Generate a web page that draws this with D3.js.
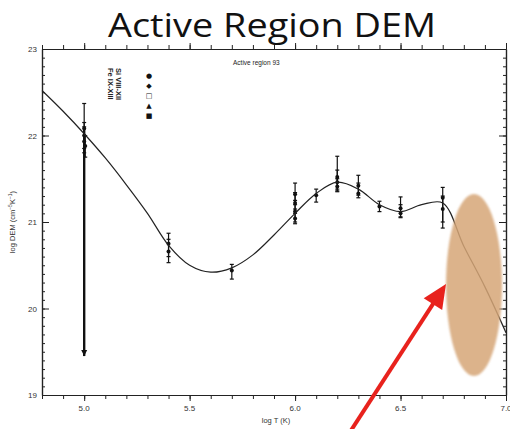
<!DOCTYPE html>
<html>
<head>
<meta charset="utf-8">
<script src="https://cdn.jsdelivr.net/npm/d3@7"></script>
<style>
  body { margin: 0; background: #fff; }
  svg { display: block; }
</style>
</head>
<body>
<svg id="drawing_region"></svg>
<script>
// fitted DEM curve
const curveT = [4.8, 4.9, 5.0, 5.1, 5.2, 5.3, 5.4, 5.5, 5.6, 5.7, 5.8, 5.9, 6.0, 6.1, 6.2, 6.3, 6.4, 6.5, 6.6, 6.7, 6.8, 6.9, 7.0];
const curveDem = [22.52, 22.28, 22.02, 21.74, 21.43, 21.1, 20.73, 20.5, 20.42, 20.47, 20.62, 20.85, 21.1, 21.33, 21.46, 21.38, 21.2, 21.12, 21.2, 21.22, 20.72, 20.25, 19.72];

// measured points with error ranges
const ptT    = [5.0, 5.0, 5.0, 5.005, 5.4, 5.4, 5.7, 6.0, 6.0, 6.0, 6.0, 6.1, 6.2, 6.2, 6.2, 6.3, 6.3, 6.4, 6.5, 6.5, 6.7, 6.7];
const ptDem  = [22.08, 22.0, 21.93, 21.88, 20.75, 20.66, 20.44, 21.32, 21.22, 21.12, 21.04, 21.31, 21.52, 21.46, 21.41, 21.42, 21.33, 21.18, 21.16, 21.1, 21.28, 21.15];
const ptLo   = [21.85, 21.8, 19.45, 21.75, 20.6, 20.53, 20.34, 21.2, 21.1, 21.0, 20.98, 21.23, 21.38, 21.36, 21.35, 21.31, 21.28, 21.12, 21.06, 21.05, 20.93, 21.0];
const ptHi   = [22.37, 22.15, 22.1, 22.0, 20.87, 20.8, 20.51, 21.45, 21.34, 21.25, 21.15, 21.38, 21.76, 21.6, 21.5, 21.54, 21.45, 21.24, 21.29, 21.2, 21.4, 21.3];
const ptLimit = [false, false, true, false, false, false, false, false, false, false, false, false, false, false, false, false, false, false, false, false, false, false];

const xTicks = [5.0, 5.5, 6.0, 6.5, 7.0];
const xTickLabels = ["5.0", "5.5", "6.0", "6.5", "7.0"];
const yTicks = [19, 20, 21, 22, 23];
const yTickLabels = ["19", "20", "21", "22", "23"];

const legendIons = ["Fe IX-XIII", "Si VIII-XII"];
const legendSymbols = ["■", "▲", "□", "◆", "●"];

const config = {
    width: 510,
    height: 429,
    left: 42, right: 506, top: 49, bottom: 395
};

const svg = d3.select('#drawing_region')
    .attr('width', config.width)
    .attr('height', config.height);

const xscale = d3.scaleLinear().domain([4.8, 7.0]).range([config.left, config.right]);
const yscale = d3.scaleLinear().domain([19, 23]).range([config.bottom, config.top]);

// title
svg.append('text')
    .attr('x', 272).attr('y', 37)
    .attr('text-anchor', 'middle')
    .attr('font-family', '"Open Sans", sans-serif')
    .attr('font-size', 33)
    .attr('textLength', 328)
    .attr('lengthAdjust', 'spacingAndGlyphs')
    .attr('fill', '#111')
    .text('Active Region DEM');

// axes: minor + major ticks on all four sides
const minorX = d3.range(4.8, 7.001, 0.1);
const minorY = d3.range(19, 23.001, 0.1);
const axisColor = '#222';

function addAxis(axisFn, scale, values, size, transform) {
    const g = svg.append('g')
        .attr('transform', transform)
        .call(axisFn(scale).tickValues(values).tickSize(size).tickFormat('').tickSizeOuter(0));
    g.select('.domain').attr('stroke', axisColor).attr('stroke-width', 1.2);
    g.selectAll('line').attr('stroke', axisColor).attr('stroke-width', 1);
    return g;
}

addAxis(d3.axisTop, xscale, minorX, -4, `translate(0,${config.bottom})`);
addAxis(d3.axisTop, xscale, xTicks, -6, `translate(0,${config.bottom})`);
addAxis(d3.axisBottom, xscale, minorX, -4, `translate(0,${config.top})`);
addAxis(d3.axisBottom, xscale, xTicks, -6, `translate(0,${config.top})`);
addAxis(d3.axisRight, yscale, minorY, 3, `translate(${config.left},0)`);
addAxis(d3.axisRight, yscale, yTicks, 7, `translate(${config.left},0)`);
addAxis(d3.axisLeft, yscale, minorY, 3, `translate(${config.right},0)`);
addAxis(d3.axisLeft, yscale, yTicks, 7, `translate(${config.right},0)`);

// tick labels
svg.append('g').selectAll('text')
    .data(xTicks)
    .join('text')
    .attr('x', d => xscale(d))
    .attr('y', 411)
    .attr('text-anchor', 'middle')
    .attr('font-family', '"Liberation Sans", sans-serif')
    .attr('font-size', 8)
    .attr('fill', '#333')
    .text((d, i) => xTickLabels[i]);

svg.append('g').selectAll('text')
    .data(yTicks)
    .join('text')
    .attr('x', 37)
    .attr('y', d => yscale(d) + 3)
    .attr('text-anchor', 'end')
    .attr('font-family', '"Liberation Sans", sans-serif')
    .attr('font-size', 8)
    .attr('fill', '#333')
    .text((d, i) => yTickLabels[i]);

// axis titles
svg.append('text')
    .attr('x', 276).attr('y', 423)
    .attr('text-anchor', 'middle')
    .attr('font-family', '"Liberation Sans", sans-serif')
    .attr('font-size', 7.5)
    .attr('fill', '#333')
    .text('log T (K)');

const ylab = svg.append('text')
    .attr('transform', 'translate(15,222) rotate(-90)')
    .attr('text-anchor', 'middle')
    .attr('font-family', '"Liberation Sans", sans-serif')
    .attr('font-size', 7.5)
    .attr('fill', '#333');
ylab.append('tspan').text('log DEM (cm');
ylab.append('tspan').attr('dy', -3).attr('font-size', 5).text('−5');
ylab.append('tspan').attr('dy', 3).text('K');
ylab.append('tspan').attr('dy', -3).attr('font-size', 5).text('−1');
ylab.append('tspan').attr('dy', 3).text(')');

// in-plot label
svg.append('text')
    .attr('x', 233).attr('y', 65)
    .attr('font-family', '"Liberation Sans", sans-serif')
    .attr('font-size', 6.5)
    .attr('fill', '#222')
    .text('Active region 93');

// rotated legend
legendIons.forEach((t, i) => {
    svg.append('text')
        .attr('transform', `translate(${108 + i * 8},68) rotate(90)`)
        .attr('font-family', '"Liberation Sans", sans-serif')
        .attr('font-size', 7.5)
        .attr('font-weight', 'bold')
        .attr('fill', '#222')
        .text(t);
});
svg.append('g').selectAll('text')
    .data(legendSymbols)
    .join('text')
    .attr('x', 149)
    .attr('y', (d, i) => 118 - i * 10)
    .attr('text-anchor', 'middle')
    .attr('font-family', '"DejaVu Sans", sans-serif')
    .attr('font-size', 7)
    .attr('fill', '#111')
    .text(d => d);

// error bars
const pts = ptT.map((t, i) => ({ t: t, d: ptDem[i], lo: ptLo[i], hi: ptHi[i], lim: ptLimit[i] }));
const eg = svg.append('g').attr('stroke', '#111').attr('stroke-width', 1.2);
eg.selectAll('line.bar')
    .data(pts)
    .join('line')
    .attr('class', 'bar')
    .attr('x1', d => xscale(d.t)).attr('x2', d => xscale(d.t))
    .attr('y1', d => yscale(d.lo)).attr('y2', d => yscale(d.hi))
    .attr('stroke-width', d => d.lim ? 2.4 : 1.2);
eg.selectAll('line.capHi')
    .data(pts)
    .join('line')
    .attr('class', 'capHi')
    .attr('x1', d => xscale(d.t) - 2).attr('x2', d => xscale(d.t) + 2)
    .attr('y1', d => yscale(d.hi)).attr('y2', d => yscale(d.hi));
eg.selectAll('line.capLo')
    .data(pts.filter(d => !d.lim))
    .join('line')
    .attr('class', 'capLo')
    .attr('x1', d => xscale(d.t) - 2).attr('x2', d => xscale(d.t) + 2)
    .attr('y1', d => yscale(d.lo)).attr('y2', d => yscale(d.lo));
svg.append('g').selectAll('path')
    .data(pts.filter(d => d.lim))
    .join('path')
    .attr('d', d => {
        const px = xscale(d.t), py = yscale(d.lo);
        return `M${px - 3},${py - 6}L${px + 3},${py - 6}L${px},${py}Z`;
    })
    .attr('fill', '#111');

svg.append('g').selectAll('circle')
    .data(pts)
    .join('circle')
    .attr('cx', d => xscale(d.t))
    .attr('cy', d => yscale(d.d))
    .attr('r', 2)
    .attr('fill', '#111');

// fitted curve
const line = d3.line()
    .x(d => xscale(d[0]))
    .y(d => yscale(d[1]))
    .curve(d3.curveCatmullRom.alpha(0.5));
svg.append('path')
    .attr('d', line(curveT.map((t, i) => [t, curveDem[i]])))
    .attr('fill', 'none')
    .attr('stroke', '#222')
    .attr('stroke-width', 1.2);

// highlight ellipse
const defs = svg.append('defs');
defs.append('filter').attr('id', 'soft')
    .append('feGaussianBlur').attr('stdDeviation', 1.2);
svg.append('ellipse')
    .attr('cx', 474).attr('cy', 285)
    .attr('rx', 28).attr('ry', 91)
    .attr('fill', '#d6a677')
    .attr('opacity', 0.85)
    .attr('filter', 'url(#soft)');

// red arrow
const arrowFrom = [350, 432], arrowTip = [446, 284];
const dx = arrowTip[0] - arrowFrom[0], dy = arrowTip[1] - arrowFrom[1];
const len = Math.sqrt(dx * dx + dy * dy);
const ux = dx / len, uy = dy / len;
const base = [arrowTip[0] - 24 * ux, arrowTip[1] - 24 * uy];
svg.append('line')
    .attr('x1', arrowFrom[0]).attr('y1', arrowFrom[1])
    .attr('x2', base[0] + 2 * ux).attr('y2', base[1] + 2 * uy)
    .attr('stroke', '#e8221d')
    .attr('stroke-width', 4);
svg.append('path')
    .attr('d', `M${arrowTip[0]},${arrowTip[1]}L${base[0] - 11 * uy},${base[1] + 11 * ux}L${base[0] + 11 * uy},${base[1] - 11 * ux}Z`)
    .attr('fill', '#e8221d');
</script>
</body>
</html>
